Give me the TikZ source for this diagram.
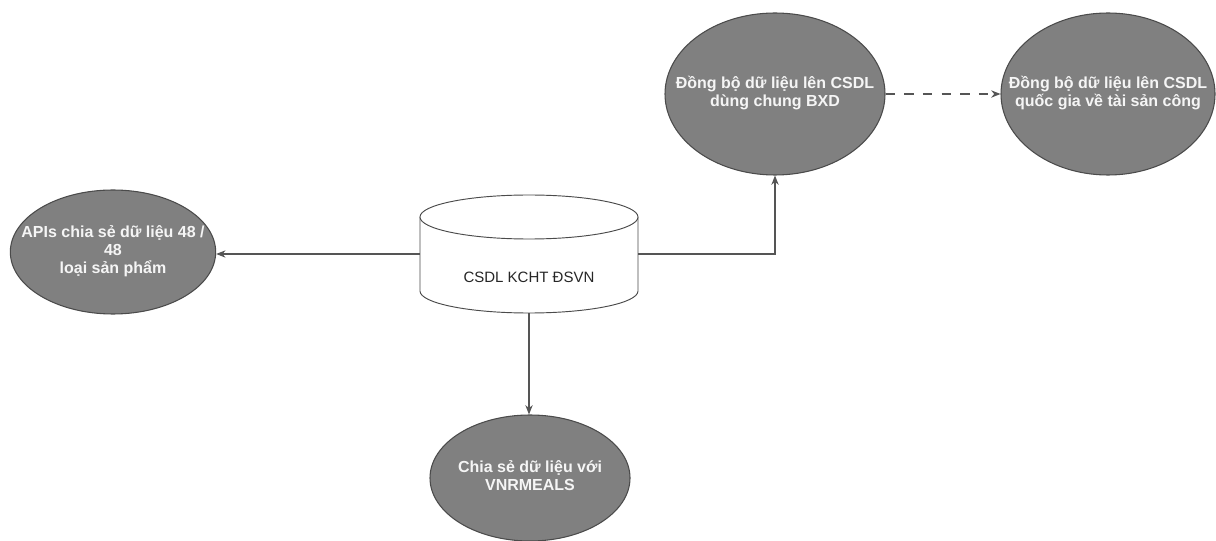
\documentclass[tikz,border=0pt]{standalone}
\usepackage{fontspec}
\setmainfont{Liberation Sans}
\usetikzlibrary{shapes.geometric,arrows.meta}
\definecolor{blobfill}{RGB}{128,128,128}
\definecolor{blobline}{RGB}{75,75,75}
\definecolor{lineclr}{RGB}{85,85,85}
\definecolor{txtlight}{RGB}{245,245,245}
\newcommand{\blobtext}[1]{\makebox[0pt][c]{\begin{tabular}{@{}c@{}}#1\end{tabular}}}
\tikzset{
  blob/.style={ellipse, draw=blobline, line width=0.8pt, fill=blobfill, inner sep=0pt,
    text=txtlight, font=\bfseries\fontsize{12}{13.5}\selectfont},
  cylbox/.style={rectangle, inner sep=0pt, minimum width=163.5pt, minimum height=88.5pt},
  cyltxt/.style={font=\fontsize{11.25}{13.5}\selectfont, text=black!85},
  cylline/.style={draw=blobline, line width=0.7pt, fill=white},
  conn/.style={draw=lineclr, line width=0.8pt, -{Stealth[length=7pt,width=5.5pt]}},
  dconn/.style={conn, dash pattern=on 7pt off 7pt}
}
\begin{document}
\begin{tikzpicture}[x=0.75pt,y=-0.75pt]
\useasboundingbox (0,0) rectangle (1216,541);
\fill[white] (0,0) rectangle (1216,541);
% cylinder outline
\draw[cylline] (420,217) -- (420,291) arc[start angle=180,end angle=360,x radius=81.75pt,y radius=16.5pt] -- (638,217);
\draw[cylline] (529,217) ellipse[x radius=81.75pt,y radius=16.5pt];
\node[cylbox] (cyl) at (529,254) {};
\node[cyltxt] (cyltext) at (529,277) {CSDL KCHT ĐSVN};
% ellipses
\node[blob, minimum width=154pt, minimum height=93pt] (api) at (113,252)
  {\blobtext{APIs chia sẻ dữ liệu 48 /\\48\\loại sản phẩm}};
\node[blob, minimum width=165pt, minimum height=121.5pt] (bxd) at (775,94)
  {\blobtext{Đồng bộ dữ liệu lên CSDL\\dùng chung BXD}};
\node[blob, minimum width=160.5pt, minimum height=121.5pt] (qg) at (1108,94)
  {\blobtext{Đồng bộ dữ liệu lên CSDL\\quốc gia về tài sản công}};
\node[blob, minimum width=150pt, minimum height=94.5pt] (vnr) at (530,478)
  {\blobtext{Chia sẻ dữ liệu với\\VNRMEALS}};
% connectors
\draw[conn] (cyl.west) -- (cyl.west -| api.east);
\draw[conn] (cyl.east) -| (bxd.south);
\draw[conn] (cyl.south) -- (cyl.south |- vnr.north);
\draw[dconn] (bxd.east) -- (qg.west);
\end{tikzpicture}
\end{document}
